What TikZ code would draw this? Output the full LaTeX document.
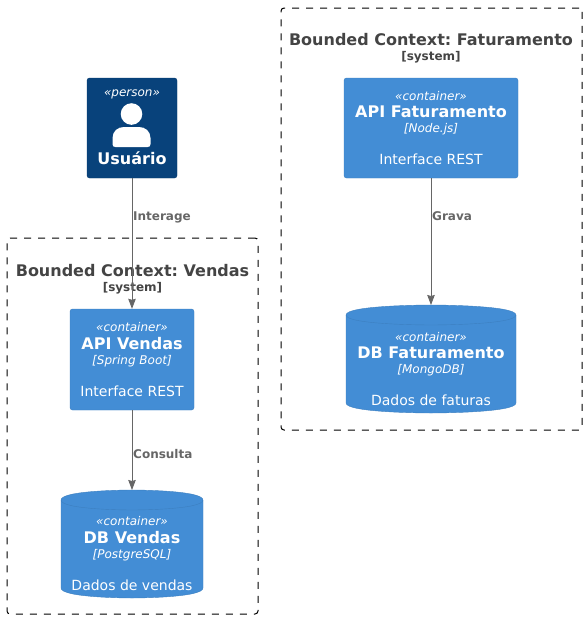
\documentclass[tikz,border=0pt]{standalone}
\usepackage{fontspec}
\setmainfont{DejaVu Sans}
\usepackage{xcolor}
\usetikzlibrary{arrows.meta,calc}
\definecolor{personfill}{HTML}{08427B}
\definecolor{personedge}{HTML}{073B6F}
\definecolor{containerfill}{HTML}{438DD5}
\definecolor{containeredge}{HTML}{3C7FC0}
\definecolor{relgray}{HTML}{666666}
\definecolor{titlegray}{HTML}{444444}
\frenchspacing
\newcommand{\stereo}[1]{{\fontsize{12}{16}\selectfont\itshape «#1»}}
\newcommand{\ctrtext}[4]{\stereo{#1}\\[5pt]{\fontsize{16}{16}\selectfont\bfseries #2}\\[3pt]{\fontsize{12}{16}\selectfont\itshape [#3]}\\[18pt]{\fontsize{14}{16}\selectfont #4}}
\newcommand{\clustertext}[1]{{\fontsize{16}{17}\selectfont\bfseries #1}\\[3pt]{\fontsize{12}{13}\selectfont\bfseries [system]}}
% cylinder body over the box of a named node
\newcommand{\dbbody}[1]{
    \path[fill=containerfill, draw=containeredge, line width=0.4pt]
        ($(#1.north west)+(0,10)$) .. controls (#1.north west) and (#1.north) .. (#1.north)
        .. controls (#1.north) and (#1.north east) .. ($(#1.north east)+(0,10)$)
        -- ($(#1.south east)+(0,-10)$) .. controls (#1.south east) and (#1.south) .. (#1.south)
        .. controls (#1.south) and (#1.south west) .. ($(#1.south west)+(0,-10)$) -- cycle;
    \draw[containeredge, line width=0.4pt]
        ($(#1.north west)+(0,10)$) .. controls ($(#1.north west)+(0,20)$) and ($(#1.north)+(0,20)$) .. ($(#1.north)+(0,20)$)
        .. controls ($(#1.north)+(0,20)$) and ($(#1.north east)+(0,20)$) .. ($(#1.north east)+(0,10)$);
}

\begin{document}
\begin{tikzpicture}[x=1pt, y=-1pt, >={Stealth[length=10pt,width=7.5pt,inset=1pt]},
    cluster/.style={draw=black, line width=1pt, dash pattern=on 7pt off 7pt, rounded corners=3pt, inner sep=0pt},
    clustertitle/.style={text=titlegray, align=center, inner sep=0pt},
    containerbox/.style={fill=containerfill, draw=containeredge, line width=0.4pt, rounded corners=2.5pt, text=white, align=center, inner sep=0pt},
    personbox/.style={fill=personfill, draw=personedge, line width=0.4pt, rounded corners=2.5pt, inner sep=0pt},
    dbshape/.style={inner sep=0pt, outer sep=0pt},
    captxt/.style={text=white, align=center, inner sep=0pt},
    rel/.style={->, draw=relgray, fill=relgray, line width=0.8pt},
    rellabel/.style={text=relgray, font=\fontsize{12}{14}\selectfont\bfseries, inner sep=0pt, anchor=base west}]
    \useasboundingbox (0,0) rectangle (586,619);

    % Clusters
    \node[cluster, minimum width=251pt, minimum height=376pt] (vendas) at (132.5,426) {};
    \node[cluster, minimum width=301pt, minimum height=422pt] (faturamento) at (431.5,219) {};
    \node[clustertitle] (vendastitle) at (132.5,279) {\clustertext{Bounded Context: Vendas}};
    \node[clustertitle] (faturamentotitle) at (431,48) {\clustertext{Bounded Context: Faturamento}};

    % Person
    \node[personbox, minimum width=90pt, minimum height=100pt] (usuario) at (132,128) {};
    \node[captxt] (usuariotipo) at (132,94) {\stereo{person}};
    \node[captxt, font=\fontsize{16}{16}\selectfont\bfseries] (usuarionome) at (132,158.5) {Usuário};
    \fill[white] (131.5,114) circle (10.8pt);
    \fill[white] (115.5,147) .. controls (113.5,147) and (112.5,146) .. (112.5,144) -- (112.5,138)
        .. controls (112.5,131) and (118,127) .. (124,127) -- (139,127)
        .. controls (145,127) and (150.5,131) .. (150.5,138) -- (150.5,144)
        .. controls (150.5,146) and (149.5,147) .. (147.5,147) -- cycle;

    % Containers
    \node[containerbox, minimum width=124pt, minimum height=101pt] (apivendas) at (132,359.5)
        {\ctrtext{container}{API Vendas}{Spring Boot}{Interface REST}};
    \node[containerbox, minimum width=174pt, minimum height=100pt] (apifaturamento) at (431,128)
        {\ctrtext{container}{API Faturamento}{Node.js}{Interface REST}};

    % Databases
    \node[dbshape, minimum width=142pt, minimum height=108pt] (dbvendas) at (132,544) {};
    \dbbody{dbvendas}
    \node[captxt] (dbvendastxt) at (132,553.5) {\ctrtext{container}{DB Vendas}{PostgreSQL}{Dados de vendas}};
    \node[dbshape, minimum width=170pt, minimum height=108pt] (dbfaturamento) at (431,359) {};
    \dbbody{dbfaturamento}
    \node[captxt] (dbfaturamentotxt) at (431,369) {\ctrtext{container}{DB Faturamento}{MongoDB}{Dados de faturas}};

    % Relations
    \draw[rel] (usuario) -- (apivendas);
    \draw[rel] (apivendas) -- (dbvendas);
    \draw[rel] (apifaturamento) -- (dbfaturamento);
    \node[rellabel] (interage) at (133,220) {Interage};
    \node[rellabel] (consulta) at (133,458) {Consulta};
    \node[rellabel] (grava) at (432,220) {Grava};
\end{tikzpicture}
\end{document}
